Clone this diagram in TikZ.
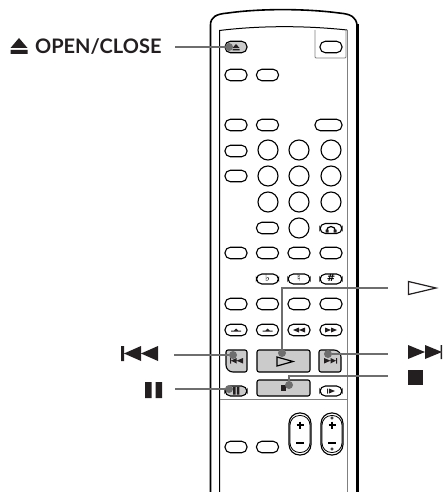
\documentclass[tikz,border=0pt]{standalone}
\usepackage{fontspec}
\setmainfont{Lato}
\newfontfamily\symfont{DejaVu Sans}
\usetikzlibrary{positioning}
\definecolor{leadgray}{HTML}{6E6E6E}
\definecolor{keygray}{HTML}{CBCBCB}
\definecolor{icondark}{HTML}{231F20}
\tikzset{
    btn/.style={draw, line width=1.1pt, rounded corners=5.4pt, minimum width=22pt, minimum height=11.5pt, inner sep=0pt, font=\symfont\fontsize{10}{10}\selectfont\bfseries},
    dial/.style={draw, line width=1.1pt, circle, minimum size=20pt, inner sep=0pt},
    hitdot/.style={circle, fill=leadgray, minimum size=8pt, inner sep=0pt},
    leader/.style={draw=leadgray, line width=2pt},
    glyph/.style={fill=icondark}
}
\begin{document}
\begin{tikzpicture}[x=1pt, y=-1pt]
    \useasboundingbox (0,0) rectangle (442,492);
    \clip (0,0) rectangle (442,492);

    % 1. remote body
    \draw[line width=1.6pt] (210.5,492) -- (210.5,25) .. controls (210.5,17) and (216,14) .. (228,13)
        .. controls (260,8.5) and (305,8.5) .. (339,13) .. controls (351,14) and (356,17) .. (357,25);
    \draw[line width=3.2pt] (357.5,24) -- (357.5,492);
    \draw[line width=1pt] (219.5,492) -- (219.5,30.5) .. controls (260,25.5) and (305,25.5) .. (347,30);
    \draw[gray, line width=1pt] (347,30) -- (347,492);
    \draw[gray, line width=1pt] (219.5,399) -- (347,399);
    \draw[gray, line width=0.9pt, rounded corners=1pt] (315,30) -- (315,58) -- (346,58) -- (346,30);

    % 2. plain buttons
    \node[btn] (power) at (331,47) {};
    \foreach \x/\y/\nm in {236/75/a1, 267.5/75/a2, 236/125/b1, 267.5/125/b2,
        236/151/c1, 236/176/d1, 267.5/228/e2,
        236/253/f1, 267.5/253/f2, 299/253/f3, 331/253/f4,
        236/304/h1, 267.5/304/h2, 299/304/h3, 331/304/h4,
        236/330/k1, 267.5/330/k2, 299/330/k3, 331/330/k4,
        236/447/n1, 267.5/447/n2} {
        \node[btn] (key\nm) at (\x,\y) {};
    }
    \node[btn, minimum width=27pt] (keyb4) at (328.5,125) {};
    \node[btn, minimum height=10pt] (keyphones) at (331,228.5) {};
    \node[btn, minimum height=10pt] (keyslow) at (331,391) {};
    \node[btn, minimum height=10pt, text height=6pt, text depth=1pt] (keyflat) at (267.5,279) {\symbol{"266D}};
    \node[btn, minimum height=10pt, text height=6pt, text depth=1pt] (keynatural) at (299,279) {\symbol{"266E}};
    \node[btn, minimum height=10pt, text height=6pt, text depth=1pt] (keysharp) at (331,279) {\#};

    % 3. number dials
    \foreach \x/\y/\nm in {268/150/a, 299/150/b, 331/150/c, 268/176/d, 299/176/e, 331/176/f,
        268/202/g, 299/202/h, 331/202/i, 299/228/j} {
        \node[dial] (dial\nm) at (\x,\y) {};
    }

    % 4. grey keys
    \node[btn, fill=keygray] (keyopen) at (236,47) {};
    \node[btn, fill=keygray, minimum height=10pt] (keypause) at (236,391) {};
    \node[btn, fill=keygray, rounded corners=2pt, minimum width=53pt, minimum height=22pt] (keyplay) at (283.5,361) {};
    \node[btn, fill=keygray, rounded corners=2pt, minimum width=53pt, minimum height=16pt] (keystop) at (283.5,388) {};
    \draw[fill=keygray, line width=1.1pt, rounded corners=2pt] (226,350) -- (247,350) -- (247,372)
        [rounded corners=7pt] -- (226,372) [rounded corners=2pt] -- cycle;
    \draw[fill=keygray, line width=1.1pt, rounded corners=2pt] (319,350) [rounded corners=7pt] -- (341,350)
        [rounded corners=2pt] -- (341,372) -- (319,372) -- cycle;

    % 5. volume keys
    \foreach \x/\nm in {300/left, 332/right} {
        \node[btn, rounded corners=10.5pt, minimum width=22pt, minimum height=42pt] (vol\nm) at (\x,434) {};
        \draw[line width=0.8pt, rounded corners=9.5pt] (\x-10,415.5) rectangle (\x+10,452.5);
        \draw[line width=1.3pt] (\x-3.5,425) -- (\x+3.5,425) (\x,421.5) -- (\x,428.5);
        \draw[line width=1.8pt] (\x-4,443) -- (\x+4,443);
    }
    \draw[line width=0.6pt] (332,418) circle (1.2pt) (332,449) circle (1.2pt);

    % 6. marks on the small keys
    \fill[glyph] (236,44) -- (239.5,48) -- (232.5,48) -- cycle (232.5,49) rectangle (239.5,50.5);
    \fill[glyph] (233,387) rectangle (235.5,394.5) (236.8,387) rectangle (239.3,394.5);
    \draw[line width=1.2pt] (277,357) -- (293,361.5) -- (277,366) -- cycle;
    \fill[glyph] (280.5,385) rectangle (286,390.5);
    \fill[glyph] (230,358) rectangle (231,363.5) (231,360.7) -- (236.5,358) -- (236.5,363.5) -- cycle
        (236.5,360.7) -- (243,358) -- (243,363.5) -- cycle;
    \fill[glyph] (336,358) rectangle (337,363.5) (336,360.7) -- (330.5,358) -- (330.5,363.5) -- cycle
        (330.5,360.7) -- (324,358) -- (324,363.5) -- cycle;
    \fill[glyph] (293,330) -- (299,327.5) -- (299,332.5) -- cycle (299,330) -- (305,327.5) -- (305,332.5) -- cycle;
    \fill[glyph] (337,330) -- (331,327.5) -- (331,332.5) -- cycle (331,330) -- (325,327.5) -- (325,332.5) -- cycle;
    \fill[glyph] (231,330.5) rectangle (241,331.5) (234,330.5) -- (236,328.5) -- (238,330.5) -- cycle;
    \fill[glyph] (262.5,330.5) rectangle (272.5,331.5) (265.5,330.5) -- (267.5,328.5) -- (269.5,330.5) -- cycle;
    \fill[glyph] (327,388.5) rectangle (328,393.5) (329,388.5) -- (335,391) -- (329,393.5) -- cycle;
    \draw[line width=1.2pt] (326.5,231) arc (180:360:4.5);
    \fill[glyph] (325.5,229.5) rectangle (328.5,232.5) (333.5,229.5) rectangle (336.5,232.5);

    % 7. leaders with their grey dots
    \node[hitdot] (dotopen) at (229,47) {};
    \node[hitdot] (dotprev) at (233,355) {};
    \node[hitdot] (dotpause) at (229,389) {};
    \node[hitdot] (dotplay) at (282,353) {};
    \node[hitdot] (dotnext) at (328,354) {};
    \node[hitdot] (dotstop) at (289,385) {};
    \coordinate (endopen) at (175,47);
    \coordinate (endprev) at (174,355);
    \coordinate (endpause) at (175,389);
    \coordinate (endplay) at (388,288);
    \coordinate (endnext) at (388,354);
    \coordinate (endstop) at (388,375.5);
    \draw[leader] (endopen) -- (dotopen);
    \draw[leader] (endprev) -- (dotprev);
    \draw[leader] (endpause) -- (dotpause);
    \draw[leader] (dotplay) |- (endplay);
    \draw[leader] (dotnext) -- (endnext);
    \draw[leader] (dotstop) |- (endstop);

    % 8. labels and their marks
    \node[anchor=base west, inner sep=0pt, font=\fontsize{20}{20}\selectfont\bfseries, text=icondark] (labelopen) at (35,53.5) {OPEN/CLOSE};
    \fill[glyph] (19,38) -- (27.5,48) -- (10.5,48) -- cycle (10.5,50) rectangle (27.5,54);
    \fill[glyph] (121,346) rectangle (124,361) (124,353.5) -- (141,346) -- (141,361) -- cycle
        (141,353.5) -- (158,346) -- (158,361) -- cycle;
    \fill[glyph] (145,382) rectangle (151.5,398) (155.5,382) rectangle (162,398);
    \draw[icondark, line width=1.2pt] (408.5,281.5) -- (436,288) -- (408.5,294.5) -- cycle;
    \fill[glyph] (408,345) -- (425,352) -- (408,359) -- cycle (425,345) -- (442,352) -- (425,359) -- cycle
        (440.5,345) rectangle (442,359);
    \fill[glyph] (408,370) rectangle (423,385);
\end{tikzpicture}
\end{document}
